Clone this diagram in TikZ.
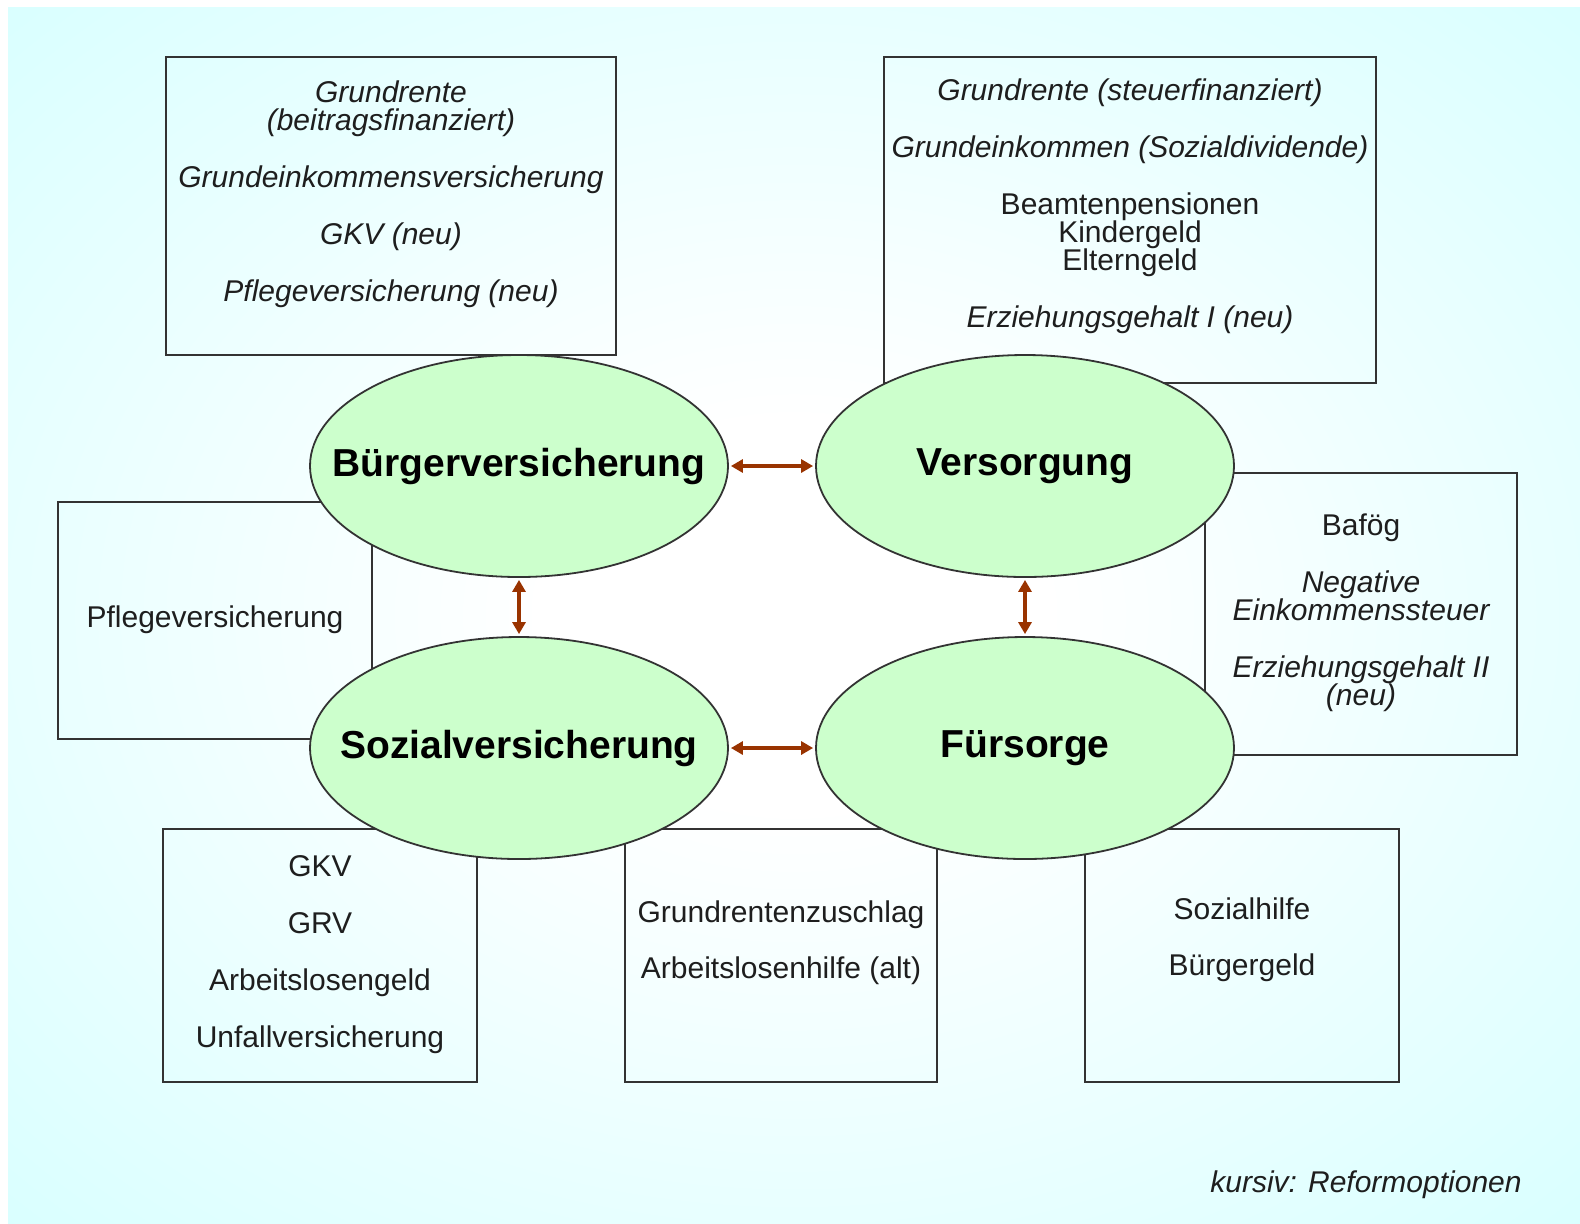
\documentclass[tikz,border=0pt]{standalone}
\usepackage{fontspec}
\setmainfont{Liberation Sans}
\usetikzlibrary{shapes.geometric,arrows.meta}
\definecolor{bgcyan}{HTML}{CCFFFF}
\definecolor{pillgreen}{HTML}{CCFFCC}
\definecolor{rust}{HTML}{993300}
\definecolor{ink}{HTML}{1E1E1E}
\pgfdeclareradialshading{bgglow}{\pgfpoint{0bp}{0bp}}{color(0bp)=(white); color(8bp)=(white); color(45bp)=(bgcyan); color(100bp)=(bgcyan)}
\newcommand{\mitte}[1]{\makebox[0pt][c]{#1}}

\begin{document}
\begin{tikzpicture}[x=0.5pt,y=-0.5pt,
  kasten/.style={draw=black!80,line width=1pt},
  txt/.style={font=\fontsize{15}{14}\selectfont,text=ink,align=center,inner sep=0pt},
  saeule/.style={ellipse,draw=black!80,line width=0.9pt,fill=pillgreen,minimum width=209pt,minimum height=111pt,inner sep=0pt,font=\fontsize{19.5}{22}\selectfont\bfseries,text=black},
  pfeil/.style={rust,line width=1.6pt,{Triangle[length=6pt,width=6.5pt]}-{Triangle[length=6pt,width=6.5pt]},shorten <=1pt,shorten >=1pt}]

\useasboundingbox (0,0) rectangle (1580,1223);
\fill[white] (0,0) rectangle (1580,1223);
\shade[shading=bgglow] (8,7) rectangle (1580,1223);

% Kaesten
\draw[kasten] (166,57) rectangle (616,355);
\draw[kasten] (884,57) rectangle (1376,383);
\draw[kasten] (58,502) rectangle (372,739);
\draw[kasten] (1205,473) rectangle (1517,755);
\draw[kasten] (163,829) rectangle (477,1082);
\draw[kasten] (625,829) rectangle (937,1082);
\draw[kasten] (1085,829) rectangle (1399,1082);

% Inhalte
\node[txt,anchor=north] (buergerneu) at (391,80) {{\itshape Grundrente}\\{\itshape (beitragsfinanziert)}\\[14.5pt]{\itshape Grundeinkommensversicherung}\\[14.5pt]{\itshape GKV (neu)}\\[14.5pt]{\itshape Pflegeversicherung (neu)}};
\node[txt,anchor=north] (versorgneu) at (1130,78) {{\itshape Grundrente (steuerfinanziert)}\\[14.5pt]{\itshape Grundeinkommen (Sozialdividende)}\\[14.5pt]Beamtenpensionen\\Kindergeld\\Elterngeld\\[14.5pt]{\itshape Erziehungsgehalt I (neu)}};
\node[txt,anchor=base] (pflege) at (215,627) {Pflegeversicherung};
\node[txt,anchor=north] (fuersneu) at (1361,513) {Bafög\\[14.5pt]{\itshape Negative}\\{\itshape Einkommenssteuer}\\[14.5pt]{\itshape Erziehungsgehalt II}\\{\itshape (neu)}};
\node[txt,anchor=north] (sozial) at (320,855) {GKV\\[14.5pt]GRV\\[14.5pt]Arbeitslosengeld\\[14.5pt]Unfallversicherung};
\node[txt,anchor=north] (zwischen) at (781,900) {Grundrentenzuschlag\\[14pt]Arbeitslosenhilfe (alt)};
\node[txt,anchor=north] (fuers) at (1242,897) {Sozialhilfe\\[14pt]Bürgergeld};
\node[txt,anchor=base east] (legende) at (1522,1192) {\itshape kursiv: Reformoptionen};

% die vier Saeulen
\node[saeule] (bv) at (519,466) {\mitte{Bürgerversicherung}};
\node[saeule] (vs) at (1025,466) {\mitte{Versorgung}};
\node[saeule] (sv) at (519,748) {\mitte{Sozialversicherung}};
\node[saeule] (fs) at (1025,748) {\mitte{Fürsorge}};

\draw[pfeil] (bv) -- (vs);
\draw[pfeil] (sv) -- (fs);
\draw[pfeil] (bv) -- (sv);
\draw[pfeil] (vs) -- (fs);
\end{tikzpicture}
\end{document}
